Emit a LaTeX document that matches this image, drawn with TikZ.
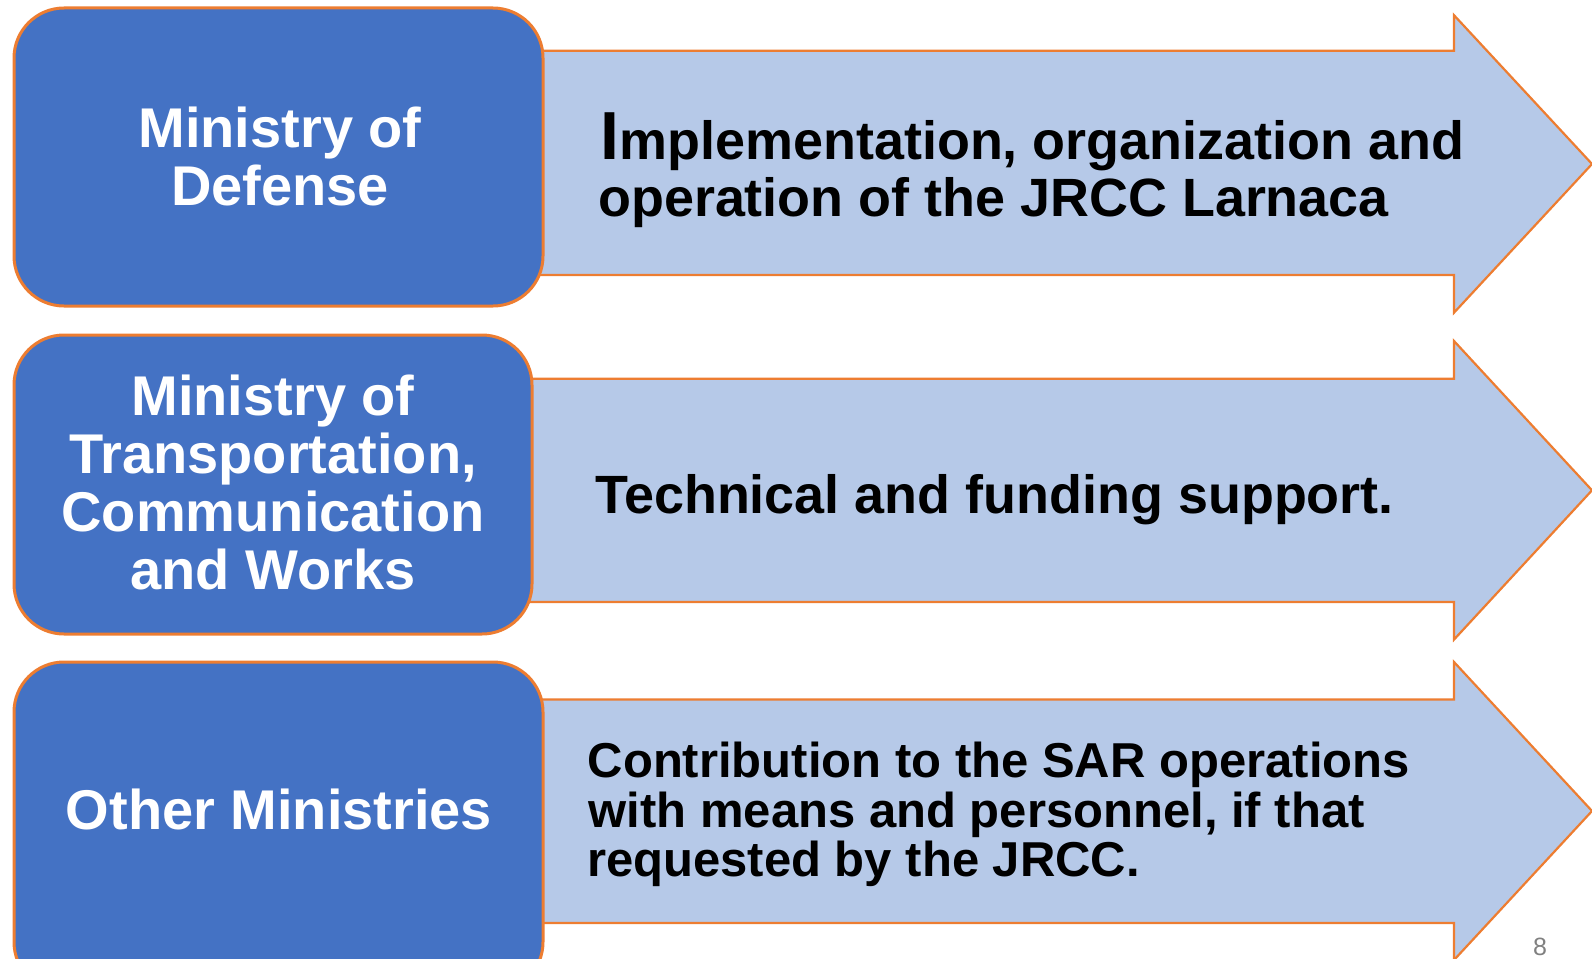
\documentclass[tikz,border=0pt]{standalone}
\usepackage{fontspec}
\setmainfont{Liberation Sans}
\definecolor{boxblue}{HTML}{4472C4}
\definecolor{edgeorange}{HTML}{ED7D31}
\definecolor{arrowfill}{HTML}{B6C9E8}
\definecolor{pagegray}{HTML}{808080}
\begin{document}
\begin{tikzpicture}[x=1pt,y=-1pt,
  ministry/.style={rounded corners=50pt, draw=edgeorange, line width=3pt, fill=boxblue, inner sep=0pt},
  bigarrow/.style={draw=edgeorange, line width=2.2pt, fill=arrowfill, line join=miter},
  wtext/.style={text=white, font=\fontsize{56}{58}\selectfont\bfseries, inner sep=0pt, anchor=base},
  btext/.style={text=black, inner sep=0pt, anchor=base west},
  big/.style={font=\fontsize{53.9}{56.6}\selectfont\bfseries},
  small/.style={font=\fontsize{49}{49.5}\selectfont\bfseries},
]
\useasboundingbox (0,0) rectangle (1592,958);
\clip (0,0) rectangle (1592,958);
% arrows
\draw[bigarrow] (520,50.8) -- (1454,50.8) -- (1454,15.2) -- (1592,164) -- (1454,312.7) -- (1454,275) -- (520,275) -- cycle;
\draw[bigarrow] (520,378.7) -- (1454,378.7) -- (1454,341) -- (1592,490.3) -- (1454,639.6) -- (1454,602) -- (520,602) -- cycle;
\draw[bigarrow] (520,699.5) -- (1454,699.5) -- (1454,662) -- (1592,811) -- (1454,960) -- (1454,923) -- (520,923) -- cycle;
% boxes
\node[ministry, minimum width=529pt, minimum height=298pt] (b1) at (278.5,157) {};
\node[ministry, minimum width=518pt, minimum height=299pt] (b2) at (273,484.5) {};
\node[ministry, minimum width=529pt, minimum height=330pt] (b3) at (278.5,827) {};
% box texts
\node[wtext] (b1l1) at (280,147) {Ministry of};
\node[wtext] (b1l2) at (280,205) {Defense};
\node[wtext] (b2l1) at (273,415) {Ministry of};
\node[wtext] (b2l2) at (273,473) {Transportation,};
\node[wtext] (b2l3) at (273,531) {Communication};
\node[wtext] (b2l4) at (273,589) {and Works};
\node[wtext] (b3l1) at (279,829) {Other Ministries};
% arrow texts
\node[btext, big] (a1l1) at (600.5,159.4) {{\fontsize{68}{68}\selectfont I}mplementation, organization and};
\node[btext, big] (a1l2) at (598,216) {operation of the JRCC Larnaca};
\node[btext, big] (a2l1) at (595,513) {Technical and funding support.};
\node[btext, small] (a3l1) at (587.5,777) {Contribution to the SAR operations};
\node[btext, small] (a3l2) at (588.5,827) {with means and personnel, if that};
\node[btext, small] (a3l3) at (587,876) {requested by the JRCC.};
% page number
\node[text=pagegray, font=\fontsize{25}{25}\selectfont, inner sep=0pt, anchor=base] (pg) at (1540,955.5) {8};
\end{tikzpicture}
\end{document}
